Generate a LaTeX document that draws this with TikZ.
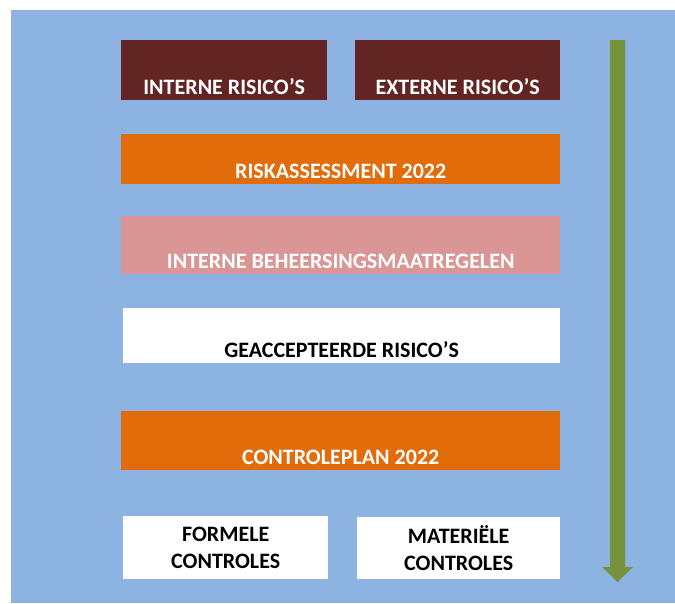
\documentclass[tikz,border=0pt]{standalone}
\usepackage{fontspec}
\setmainfont{Carlito}
\definecolor{achtergrond}{HTML}{8DB3E2}
\definecolor{donkerrood}{HTML}{632523}
\definecolor{oranje}{HTML}{E26B0A}
\definecolor{roze}{HTML}{DA9694}
\definecolor{pijldonker}{HTML}{76923C}
\definecolor{pijllicht}{HTML}{A4C463}

\begin{document}
\begin{tikzpicture}[x=1pt, y=-1pt,
  vak/.style={inner sep=0pt, anchor=north west, align=center,
    font=\bfseries\fontsize{22}{27}\selectfont},
  onder/.style={text height=#1, text depth=6pt},
  rood/.style={vak, fill=donkerrood, text=white},
  oranjevak/.style={vak, fill=oranje, text=white},
  rozevak/.style={vak, fill=roze, text=white},
  witvak/.style={vak, fill=white, text=black},
  pijl/.style={left color=pijldonker, middle color=pijllicht, right color=pijldonker}]
  \useasboundingbox (0,0) rectangle (675,603);
  \fill[achtergrond] (11,10) rectangle (675,603);
  \node[rood, minimum width=206pt, minimum height=60pt, onder=54pt] (intern) at (121,40) {INTERNE RISICO'S};
  \node[rood, minimum width=205pt, minimum height=60pt, onder=54pt] (extern) at (355,40) {EXTERNE RISICO'S};
  \node[oranjevak, minimum width=439pt, minimum height=50pt, onder=44pt] (risk) at (121,134) {RISKASSESSMENT 2022};
  \node[rozevak, minimum width=439pt, minimum height=58pt, onder=52pt] (beheersing) at (121,216) {INTERNE BEHEERSINGSMAATREGELEN};
  \node[witvak, minimum width=437pt, minimum height=55pt, onder=49pt] (geaccepteerd) at (123,308) {GEACCEPTEERDE RISICO'S};
  \node[oranjevak, minimum width=439pt, minimum height=59pt, onder=53pt] (controleplan) at (121,411) {CONTROLEPLAN 2022};
  \node[witvak, minimum width=205pt, minimum height=63pt] (formeel) at (123,516) {FORMELE\\CONTROLES};
  \node[witvak, minimum width=203pt, minimum height=62pt] (materieel) at (357,517) {MATERIËLE\\CONTROLES};
  \coordinate (pijlpunt) at (617.5,582);
  \fill[pijldonker] (610,40) -- (625,40) -- (625,567) -- (633,567) -- (pijlpunt)
    -- (602,567) -- (610,567) -- cycle;
  \fill[pijl] (610,40) rectangle (625,570);
\end{tikzpicture}
\end{document}
